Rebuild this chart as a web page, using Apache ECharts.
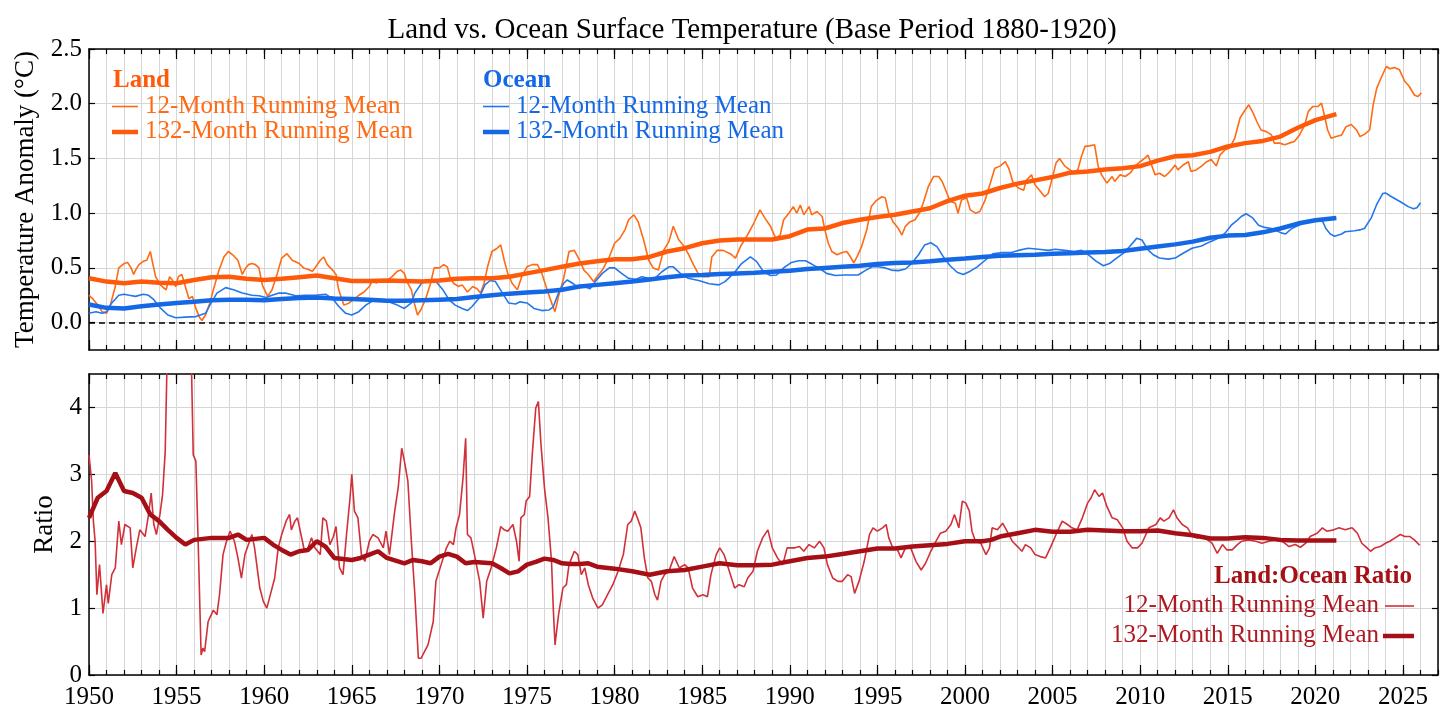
<!DOCTYPE html>
<html>
<head>
<meta charset="utf-8">
<script src="https://cdn.jsdelivr.net/npm/echarts@6.0.0/dist/echarts.min.js"></script>
<style>
  html, body { margin: 0; padding: 0; background: #fff; }
  #chart { width: 1456px; height: 728px; }
</style>
</head>
<body>
<div id="chart"></div>
<script>
// tick labels
let yearTicks = [1950, 1955, 1960, 1965, 1970, 1975, 1980, 1985, 1990, 1995, 2000, 2005, 2010, 2015, 2020, 2025]
let tempTicks = [0, 0.5, 1, 1.5, 2, 2.5]
let ratioTicks = [0, 1, 2, 3, 4]

// land, 12-month running mean [year, anomaly]
let land12 = [
  [1950.0,0.25],[1950.2,0.22],[1950.5,0.16],[1950.75,0.10],[1951.0,0.085],[1951.2,0.15],[1951.5,0.33],[1951.7,0.50],
  [1952.0,0.54],[1952.2,0.55],[1952.4,0.50],[1952.55,0.44],[1952.66,0.48],[1952.85,0.53],[1953.1,0.56],[1953.3,0.57],
  [1953.5,0.65],[1953.6,0.57],[1953.8,0.42],[1954.1,0.34],[1954.4,0.30],[1954.6,0.42],[1954.75,0.39],[1954.95,0.33],
  [1955.1,0.42],[1955.3,0.44],[1955.5,0.33],[1955.7,0.22],[1955.9,0.24],[1956.1,0.13],[1956.3,0.05],[1956.45,0.02],
  [1956.65,0.07],[1956.9,0.18],[1957.1,0.30],[1957.4,0.47],[1957.7,0.60],[1957.95,0.65],[1958.2,0.62],[1958.5,0.57],
  [1958.75,0.44],[1958.95,0.50],[1959.1,0.53],[1959.3,0.54],[1959.5,0.53],[1959.7,0.50],[1959.9,0.34],[1960.2,0.24],
  [1960.45,0.30],[1960.75,0.45],[1961.0,0.59],[1961.3,0.63],[1961.6,0.57],[1962.0,0.54],[1962.25,0.50],[1962.45,0.49],
  [1962.75,0.47],[1962.9,0.50],[1963.2,0.57],[1963.4,0.60],[1963.6,0.53],[1963.9,0.48],[1964.1,0.44],[1964.25,0.30],
  [1964.55,0.16],[1964.85,0.18],[1965.1,0.21],[1965.4,0.25],[1965.7,0.28],[1966.0,0.33],[1966.2,0.39],[1966.4,0.36],
  [1966.65,0.39],[1966.85,0.375],[1967.05,0.39],[1967.3,0.42],[1967.6,0.47],[1967.8,0.48],[1968.0,0.45],[1968.15,0.375],
  [1968.4,0.30],[1968.55,0.19],[1968.75,0.07],[1968.95,0.12],[1969.2,0.21],[1969.5,0.36],[1969.7,0.50],[1970.0,0.50],
  [1970.25,0.53],[1970.45,0.51],[1970.6,0.42],[1970.8,0.36],[1971.1,0.33],[1971.3,0.345],[1971.6,0.28],[1971.9,0.33],
  [1972.15,0.31],[1972.35,0.27],[1972.55,0.36],[1972.75,0.51],[1973.0,0.65],[1973.3,0.68],[1973.5,0.71],[1973.7,0.57],
  [1973.9,0.45],[1974.15,0.36],[1974.45,0.30],[1974.7,0.42],[1975.0,0.51],[1975.3,0.53],[1975.6,0.53],[1975.85,0.45],
  [1976.15,0.30],[1976.45,0.16],[1976.6,0.10],[1976.8,0.24],[1977.1,0.41],[1977.4,0.65],[1977.7,0.66],[1978.0,0.57],
  [1978.25,0.48],[1978.5,0.44],[1978.8,0.375],[1979.0,0.42],[1979.3,0.48],[1979.7,0.60],[1980.0,0.725],[1980.3,0.77],
  [1980.6,0.85],[1980.8,0.94],[1981.1,0.985],[1981.35,0.92],[1981.65,0.76],[1981.95,0.57],[1982.2,0.50],[1982.5,0.48],
  [1982.8,0.66],[1983.1,0.74],[1983.35,0.88],[1983.65,0.76],[1983.95,0.70],[1984.2,0.63],[1984.5,0.53],[1984.8,0.44],
  [1985.1,0.42],[1985.4,0.42],[1985.55,0.60],[1985.85,0.66],[1986.2,0.66],[1986.6,0.63],[1986.9,0.59],[1987.2,0.70],
  [1987.55,0.79],[1987.95,0.91],[1988.3,1.03],[1988.6,0.95],[1988.9,0.88],[1989.2,0.77],[1989.45,0.80],[1989.65,0.94],
  [1989.95,1.00],[1990.2,1.06],[1990.4,1.00],[1990.6,1.075],[1990.8,0.985],[1991.1,1.06],[1991.25,0.985],[1991.55,1.015],
  [1991.85,0.97],[1992.0,0.85],[1992.2,0.725],[1992.4,0.65],[1992.7,0.62],[1993.0,0.64],[1993.25,0.65],[1993.45,0.605],
  [1993.65,0.545],[1993.85,0.605],[1994.1,0.695],[1994.4,0.85],[1994.65,1.06],[1994.9,1.11],[1995.25,1.15],[1995.45,1.14],
  [1995.65,1.00],[1995.9,0.92],[1996.2,0.86],[1996.4,0.80],[1996.6,0.88],[1996.85,0.92],[1997.15,0.94],[1997.45,1.015],
  [1997.65,1.11],[1997.9,1.24],[1998.2,1.335],[1998.5,1.335],[1998.7,1.29],[1999.0,1.17],[1999.15,1.11],[1999.45,1.09],
  [1999.6,1.00],[1999.8,1.12],[2000.1,1.14],[2000.3,1.03],[2000.6,1.00],[2000.85,1.015],[2001.15,1.12],[2001.45,1.275],
  [2001.7,1.41],[2002.0,1.43],[2002.3,1.47],[2002.5,1.41],[2002.75,1.275],[2003.05,1.23],[2003.35,1.21],[2003.5,1.30],
  [2003.8,1.35],[2004.0,1.26],[2004.3,1.20],[2004.55,1.15],[2004.75,1.18],[2004.95,1.30],[2005.2,1.46],[2005.4,1.50],
  [2005.7,1.43],[2005.95,1.40],[2006.25,1.37],[2006.45,1.40],[2006.65,1.52],[2006.85,1.61],[2007.1,1.615],[2007.4,1.625],
  [2007.6,1.43],[2007.8,1.35],[2008.1,1.275],[2008.4,1.335],[2008.55,1.29],[2008.85,1.35],[2009.15,1.335],[2009.45,1.37],
  [2009.7,1.43],[2010.0,1.47],[2010.25,1.50],[2010.45,1.53],[2010.65,1.44],[2010.85,1.35],[2011.1,1.365],[2011.4,1.335],
  [2011.7,1.38],[2012.0,1.44],[2012.15,1.395],[2012.45,1.44],[2012.75,1.47],[2012.9,1.38],[2013.2,1.395],[2013.5,1.43],
  [2013.8,1.47],[2014.05,1.49],[2014.35,1.43],[2014.55,1.53],[2014.85,1.58],[2015.1,1.595],[2015.4,1.685],[2015.7,1.87],
  [2016.0,1.945],[2016.2,1.99],[2016.45,1.915],[2016.65,1.84],[2016.9,1.76],[2017.2,1.745],[2017.5,1.715],[2017.65,1.64],
  [2017.95,1.64],[2018.25,1.625],[2018.5,1.64],[2018.8,1.655],[2019.1,1.715],[2019.4,1.81],[2019.6,1.93],[2019.85,1.975],
  [2020.15,1.975],[2020.35,2.005],[2020.55,1.87],[2020.7,1.76],[2020.9,1.685],[2021.2,1.70],[2021.5,1.715],[2021.75,1.79],
  [2022.05,1.81],[2022.35,1.76],[2022.55,1.70],[2022.8,1.72],[2023.1,1.76],[2023.3,1.99],[2023.5,2.14],[2023.75,2.235],
  [2024.05,2.34],[2024.25,2.32],[2024.5,2.33],[2024.8,2.31],[2025.1,2.205],[2025.35,2.16],[2025.65,2.08],[2025.85,2.065],
  [2026.05,2.10]
]

// land, 132-month running mean
let land132 = [
  [1950,0.405],[1951,0.375],[1952,0.36],[1953,0.375],[1954,0.365],[1955,0.36],[1956,0.39],[1957,0.415],[1958,0.42],
  [1959,0.40],[1960,0.39],[1961,0.40],[1962,0.415],[1963,0.43],[1964,0.405],[1965,0.38],[1966,0.38],[1967,0.385],
  [1968,0.38],[1969,0.375],[1970,0.385],[1971,0.40],[1972,0.405],[1973,0.405],[1974,0.42],[1975,0.45],[1976,0.48],
  [1977,0.51],[1978,0.54],[1979,0.56],[1980,0.58],[1981,0.58],[1982,0.60],[1983,0.65],[1984,0.68],[1985,0.725],
  [1986,0.75],[1987,0.76],[1988,0.76],[1989,0.76],[1990,0.79],[1991,0.85],[1992,0.86],[1993,0.91],[1994,0.94],
  [1995,0.965],[1996,0.985],[1997,1.015],[1998,1.045],[1999,1.11],[2000,1.16],[2001,1.18],[2002,1.23],[2003,1.27],
  [2004,1.30],[2005,1.33],[2006,1.37],[2007,1.38],[2008,1.40],[2009,1.41],[2010,1.43],[2011,1.48],[2012,1.52],
  [2013,1.53],[2014,1.56],[2015,1.61],[2016,1.64],[2017,1.66],[2018,1.70],[2019,1.78],[2020,1.85],[2021.2,1.905]
]

// ocean, 12-month running mean
let ocean12 = [
  [1950.0,0.085],[1950.4,0.10],[1950.75,0.085],[1951.0,0.10],[1951.3,0.18],[1951.7,0.25],[1952.0,0.26],[1952.3,0.25],
  [1952.65,0.24],[1953.1,0.26],[1953.4,0.25],[1953.7,0.21],[1954.1,0.13],[1954.5,0.07],[1954.95,0.045],[1955.5,0.05],
  [1956.1,0.055],[1956.65,0.085],[1956.9,0.16],[1957.3,0.27],[1957.8,0.32],[1958.25,0.30],[1958.75,0.27],[1959.3,0.25],
  [1959.7,0.245],[1960.1,0.23],[1960.45,0.25],[1960.85,0.27],[1961.2,0.27],[1961.8,0.245],[1962.35,0.25],[1962.9,0.25],
  [1963.5,0.26],[1963.9,0.22],[1964.25,0.15],[1964.65,0.085],[1965.0,0.07],[1965.4,0.10],[1965.8,0.16],[1966.2,0.20],
  [1966.65,0.21],[1967.1,0.19],[1967.6,0.16],[1968.0,0.13],[1968.4,0.18],[1968.6,0.27],[1969.0,0.365],[1969.4,0.38],
  [1969.8,0.375],[1970.2,0.30],[1970.55,0.21],[1970.9,0.16],[1971.3,0.13],[1971.6,0.11],[1971.85,0.145],[1972.25,0.22],
  [1972.6,0.345],[1972.9,0.385],[1973.2,0.375],[1973.6,0.27],[1973.95,0.18],[1974.35,0.17],[1974.6,0.19],[1975.0,0.18],
  [1975.4,0.13],[1975.85,0.11],[1976.25,0.115],[1976.5,0.145],[1976.8,0.27],[1977.1,0.36],[1977.3,0.39],[1977.6,0.36],
  [1977.85,0.33],[1978.25,0.33],[1978.6,0.31],[1978.9,0.375],[1979.3,0.45],[1979.7,0.50],[1980.0,0.50],[1980.4,0.45],
  [1980.8,0.405],[1981.2,0.395],[1981.55,0.42],[1981.95,0.405],[1982.3,0.405],[1982.7,0.465],[1983.1,0.51],[1983.35,0.51],
  [1983.75,0.45],[1984.2,0.405],[1984.8,0.385],[1985.4,0.355],[1985.95,0.345],[1986.3,0.375],[1986.8,0.45],[1987.25,0.54],
  [1987.75,0.60],[1988.1,0.56],[1988.5,0.465],[1988.9,0.43],[1989.25,0.435],[1989.65,0.50],[1990.1,0.55],[1990.5,0.565],
  [1990.9,0.565],[1991.25,0.535],[1991.65,0.50],[1992.1,0.45],[1992.6,0.43],[1993.1,0.435],[1993.55,0.435],[1993.9,0.435],
  [1994.3,0.475],[1994.7,0.51],[1995.05,0.51],[1995.45,0.50],[1995.8,0.48],[1996.2,0.475],[1996.6,0.49],[1996.95,0.54],
  [1997.35,0.62],[1997.7,0.71],[1998.05,0.73],[1998.4,0.695],[1998.75,0.605],[1999.15,0.52],[1999.55,0.46],[1999.9,0.44],
  [2000.3,0.47],[2000.7,0.51],[2001.15,0.57],[2001.6,0.63],[2002.1,0.64],[2002.65,0.64],[2003.05,0.66],[2003.6,0.68],
  [2004.2,0.67],[2004.75,0.66],[2005.15,0.67],[2005.7,0.66],[2006.25,0.65],[2006.65,0.66],[2007.05,0.62],[2007.5,0.56],
  [2007.9,0.52],[2008.25,0.54],[2008.65,0.59],[2009.05,0.635],[2009.4,0.695],[2009.8,0.77],[2010.1,0.755],[2010.45,0.665],
  [2010.75,0.62],[2011.1,0.59],[2011.6,0.58],[2012.0,0.59],[2012.35,0.625],[2012.96,0.68],[2013.5,0.70],[2014.0,0.74],
  [2014.45,0.77],[2014.86,0.82],[2015.2,0.89],[2015.5,0.93],[2015.77,0.97],[2016.05,0.995],[2016.4,0.96],[2016.76,0.89],
  [2017.1,0.87],[2017.5,0.86],[2018.05,0.82],[2018.3,0.81],[2018.66,0.86],[2019.2,0.90],[2019.75,0.94],[2020.2,0.94],
  [2020.4,0.93],[2020.6,0.86],[2020.85,0.81],[2021.1,0.79],[2021.5,0.81],[2021.7,0.83],[2022.25,0.84],[2022.6,0.85],
  [2022.8,0.86],[2023.2,0.96],[2023.5,1.08],[2023.85,1.18],[2024.0,1.185],[2024.35,1.15],[2024.9,1.10],[2025.3,1.06],
  [2025.6,1.04],[2025.8,1.05],[2026.0,1.095]
]

// ocean, 132-month running mean
let ocean132 = [
  [1950,0.165],[1951,0.135],[1952,0.13],[1953,0.15],[1954,0.165],[1955,0.18],[1956,0.19],[1957,0.205],[1958,0.21],
  [1959,0.21],[1960,0.205],[1961,0.215],[1962,0.225],[1963,0.23],[1964,0.22],[1965,0.215],[1966,0.21],[1967,0.20],
  [1968,0.20],[1969,0.205],[1970,0.21],[1971,0.215],[1972,0.235],[1973,0.25],[1974,0.265],[1975,0.275],[1976,0.285],
  [1977,0.30],[1978,0.33],[1979,0.345],[1980,0.36],[1981,0.375],[1982,0.395],[1983,0.415],[1984,0.43],[1985,0.435],
  [1986,0.445],[1987,0.45],[1988,0.455],[1989,0.465],[1990,0.475],[1991,0.49],[1992,0.50],[1993,0.51],[1994,0.52],
  [1995,0.535],[1996,0.545],[1997,0.55],[1998,0.56],[1999,0.575],[2000,0.585],[2001,0.60],[2002,0.61],[2003,0.615],
  [2004,0.62],[2005,0.63],[2006,0.635],[2007,0.64],[2008,0.645],[2009,0.655],[2010,0.675],[2011,0.695],[2012,0.715],
  [2013,0.74],[2014,0.775],[2015,0.795],[2016,0.80],[2017,0.825],[2018,0.86],[2019,0.905],[2020,0.935],[2021.2,0.955]
]

// land:ocean ratio, 12-month running mean (runs off the top in 1954-55)
let ratio12 = [
  [1950.0,3.29],[1950.15,2.9],[1950.25,2.3],[1950.35,2.0],[1950.45,1.2],[1950.6,1.65],[1950.8,0.92],[1951.0,1.35],
  [1951.1,1.07],[1951.3,1.5],[1951.5,1.6],[1951.7,2.3],[1951.85,1.95],[1952.05,2.25],[1952.35,2.2],[1952.5,1.6],
  [1952.7,1.9],[1952.9,2.17],[1953.2,2.07],[1953.4,2.4],[1953.55,2.72],[1953.7,2.25],[1953.85,2.1],[1954.05,2.4],
  [1954.2,2.7],[1954.35,3.34],[1954.45,4.6],[1954.7,8],[1955.0,9],[1955.4,8],[1955.7,6],[1955.85,4.6],
  [1955.95,3.29],[1956.1,3.2],[1956.25,1.8],[1956.4,0.3],[1956.5,0.4],[1956.6,0.35],[1956.8,0.8],[1957.1,0.97],
  [1957.3,0.9],[1957.45,1.2],[1957.65,1.8],[1957.85,2.0],[1958.05,2.15],[1958.3,2.0],[1958.5,1.75],[1958.7,1.45],
  [1958.9,1.8],[1959.1,1.95],[1959.3,2.1],[1959.45,1.9],[1959.75,1.3],[1959.95,1.1],[1960.15,1.0],[1960.4,1.25],
  [1960.6,1.45],[1960.8,1.9],[1961.0,2.1],[1961.25,2.3],[1961.45,2.4],[1961.55,2.17],[1961.75,2.3],[1961.9,2.35],
  [1962.1,2.1],[1962.3,1.85],[1962.5,1.9],[1962.7,2.05],[1962.9,1.9],[1963.2,1.8],[1963.35,2.35],[1963.55,2.3],
  [1963.75,1.95],[1963.95,2.07],[1964.1,2.22],[1964.3,1.6],[1964.5,1.5],[1964.7,2.1],[1964.9,2.65],[1965.0,3.0],
  [1965.15,2.45],[1965.35,2.35],[1965.55,1.8],[1965.75,1.7],[1966.0,2.0],[1966.2,2.1],[1966.5,2.05],[1966.8,1.9],
  [1966.95,2.15],[1967.15,1.8],[1967.45,2.45],[1967.65,2.8],[1967.85,3.39],[1968.0,3.2],[1968.2,2.9],[1968.4,2.0],
  [1968.6,1.2],[1968.8,0.25],[1968.95,0.25],[1969.15,0.35],[1969.35,0.45],[1969.65,0.8],[1969.8,1.4],[1970.1,1.65],
  [1970.4,1.9],[1970.6,2.0],[1970.8,1.95],[1970.95,2.2],[1971.15,2.4],[1971.35,2.95],[1971.5,3.54],[1971.6,2.1],
  [1971.8,2.05],[1972.0,1.8],[1972.3,1.4],[1972.5,0.85],[1972.7,1.4],[1972.95,1.6],[1973.25,1.9],[1973.5,2.22],
  [1973.7,2.17],[1973.9,2.15],[1974.2,2.25],[1974.4,2.0],[1974.55,1.7],[1974.65,2.35],[1974.85,2.4],[1974.95,2.6],
  [1975.15,2.67],[1975.3,3.29],[1975.5,3.99],[1975.65,4.09],[1975.8,3.44],[1976.0,2.79],[1976.2,2.35],[1976.4,1.7],
  [1976.5,1.0],[1976.6,0.45],[1976.8,0.9],[1977.05,1.3],[1977.25,1.35],[1977.4,1.65],[1977.7,1.85],[1977.9,1.8],
  [1978.1,1.5],[1978.3,1.6],[1978.5,1.35],[1978.75,1.15],[1979.05,1.0],[1979.3,1.05],[1979.6,1.2],[1979.9,1.35],
  [1980.2,1.55],[1980.5,1.8],[1980.75,2.25],[1980.95,2.3],[1981.15,2.45],[1981.3,2.35],[1981.5,2.2],[1981.7,1.75],
  [1981.9,1.45],[1982.1,1.4],[1982.3,1.2],[1982.45,1.12],[1982.65,1.4],[1982.85,1.5],[1983.1,1.55],[1983.4,1.77],
  [1983.7,1.6],[1984.0,1.65],[1984.2,1.6],[1984.45,1.3],[1984.75,1.17],[1985.05,1.2],[1985.3,1.17],[1985.5,1.5],
  [1985.8,1.8],[1986.0,1.9],[1986.25,1.8],[1986.55,1.55],[1986.85,1.3],[1987.1,1.35],[1987.4,1.32],[1987.6,1.45],
  [1987.9,1.55],[1988.15,1.85],[1988.45,2.05],[1988.75,2.17],[1989.0,1.9],[1989.3,1.75],[1989.6,1.65],[1989.85,1.9],
  [1990.25,1.9],[1990.55,1.92],[1990.8,1.85],[1991.1,1.95],[1991.4,1.9],[1991.7,2.0],[1991.95,1.9],[1992.15,1.65],
  [1992.45,1.45],[1992.75,1.4],[1993.0,1.4],[1993.3,1.5],[1993.5,1.47],[1993.7,1.22],[1993.95,1.4],[1994.25,1.7],
  [1994.55,2.1],[1994.75,2.2],[1995.0,2.15],[1995.3,2.2],[1995.5,2.25],[1995.65,2.05],[1995.85,1.92],[1996.15,1.87],
  [1996.35,1.75],[1996.6,1.9],[1996.9,1.9],[1997.2,1.7],[1997.5,1.57],[1997.75,1.67],[1998.05,1.85],[1998.35,2.0],
  [1998.6,2.12],[1998.9,2.15],[1999.2,2.25],[1999.4,2.4],[1999.65,2.2],[1999.85,2.6],[2000.05,2.57],[2000.25,2.45],
  [2000.4,2.15],[2000.6,2.0],[2000.9,1.97],[2001.2,1.8],[2001.4,1.9],[2001.55,2.2],[2001.85,2.17],[2002.15,2.27],
  [2002.4,2.15],[2002.7,2.0],[2003.0,1.92],[2003.25,1.85],[2003.45,1.95],[2003.75,1.9],[2004.0,1.8],[2004.3,1.77],
  [2004.6,1.75],[2004.9,1.92],[2005.2,2.1],[2005.55,2.3],[2005.85,2.25],[2006.1,2.2],[2006.4,2.17],[2006.7,2.35],
  [2007.0,2.57],[2007.2,2.65],[2007.4,2.77],[2007.65,2.67],[2007.85,2.72],[2008.1,2.52],[2008.4,2.35],[2008.7,2.32],
  [2009.0,2.2],[2009.25,2.0],[2009.55,1.9],[2009.85,1.9],[2010.1,1.97],[2010.5,2.2],[2010.9,2.25],[2011.15,2.35],
  [2011.35,2.3],[2011.65,2.35],[2011.9,2.47],[2012.1,2.35],[2012.4,2.25],[2012.7,2.2],[2013.0,2.07],[2013.25,2.05],
  [2013.55,2.07],[2013.85,2.02],[2014.1,1.97],[2014.4,1.82],[2014.7,1.95],[2014.95,1.87],[2015.25,1.87],[2015.55,1.95],
  [2015.8,2.0],[2016.2,2.02],[2016.6,2.0],[2016.95,1.97],[2017.35,2.0],[2017.7,2.02],[2018.1,2.0],[2018.5,1.92],
  [2018.85,1.95],[2019.15,1.91],[2019.45,1.97],[2019.7,2.07],[2020.1,2.12],[2020.4,2.2],[2020.65,2.15],[2021.05,2.17],
  [2021.35,2.2],[2021.7,2.17],[2022.1,2.2],[2022.4,2.12],[2022.65,1.97],[2022.95,1.9],[2023.15,1.85],[2023.4,1.9],
  [2023.7,1.92],[2024.0,1.97],[2024.25,2.0],[2024.55,2.05],[2024.85,2.1],[2025.1,2.07],[2025.4,2.07],[2025.65,2.02],
  [2025.95,1.94]
]

// land:ocean ratio, 132-month running mean
let ratio132 = [
  [1950.0,2.35],[1950.5,2.65],[1951.0,2.75],[1951.5,3.02],[1952.0,2.75],[1952.5,2.72],[1953.0,2.65],[1953.5,2.4],
  [1954.0,2.3],[1954.5,2.17],[1955.0,2.05],[1955.5,1.95],[1956.0,2.02],[1957.0,2.05],[1958.0,2.05],[1958.5,2.1],
  [1959.0,2.02],[1960.0,2.05],[1960.5,1.95],[1961.0,1.87],[1961.5,1.8],[1962.0,1.85],[1962.5,1.87],[1963.0,2.0],
  [1963.5,1.92],[1964.0,1.75],[1965.0,1.72],[1965.5,1.75],[1966.0,1.8],[1966.5,1.85],[1967.0,1.75],[1968.0,1.67],
  [1968.5,1.72],[1969.0,1.7],[1969.5,1.67],[1970.0,1.77],[1970.5,1.81],[1971.0,1.77],[1971.5,1.67],[1972.0,1.69],
  [1973.0,1.67],[1973.5,1.6],[1974.0,1.52],[1974.5,1.55],[1975.0,1.65],[1975.5,1.69],[1976.0,1.74],[1976.5,1.72],
  [1977.0,1.67],[1977.5,1.66],[1978.0,1.66],[1978.5,1.67],[1979.0,1.62],[1980.0,1.59],[1981.0,1.55],[1982.0,1.5],
  [1983.0,1.55],[1984.0,1.57],[1985.0,1.62],[1986.0,1.67],[1987.0,1.64],[1988.0,1.64],[1989.0,1.65],[1990.0,1.7],
  [1991.0,1.75],[1992.0,1.77],[1993.0,1.81],[1994.0,1.85],[1995.0,1.89],[1996.0,1.89],[1997.0,1.92],[1998.0,1.94],
  [1999.0,1.96],[2000.0,2.0],[2001.0,2.0],[2001.5,2.02],[2002.0,2.07],[2003.0,2.12],[2004.0,2.17],[2005.0,2.14],
  [2006.0,2.14],[2007.0,2.17],[2008.0,2.16],[2009.0,2.15],[2010.0,2.15],[2011.0,2.16],[2012.0,2.12],[2013.0,2.09],
  [2014.0,2.04],[2015.0,2.04],[2016.0,2.06],[2017.0,2.05],[2018.0,2.02],[2019.0,2.01],[2020.0,2.01],[2021.2,2.01]
]

const FONT = "'Liberation Serif', 'DejaVu Serif', serif"
const LAND = "#FF6A13"
const LAND_THICK = "#FF5A0A"
const OCEAN = "#2477EB"
const OCEAN_THICK = "#1468E6"
const RATIO = "#D23039"
const RATIO_THICK = "#A50F15"
const GRIDLINE = "#d6d6d6"

// x axes for one panel: yearly ticks + longer 5-year ticks, bottom and top
function xAxesFor(gi, withLabels) {
  let axes = []
  ;["bottom", "top"].forEach(function (pos) {
    axes.push({
      gridIndex: gi, type: "value", position: pos, min: 1950, max: 2027, interval: 1,
      axisLine: { show: true, onZero: false, lineStyle: { color: "#000", width: 1.5 } },
      axisTick: { show: true, inside: true, length: 5, lineStyle: { color: "#000", width: 1.2 } },
      axisLabel: {
        show: withLabels && pos === "bottom",
        color: "#000", fontFamily: FONT, fontSize: 25, margin: 10,
        formatter: function (v) { return v % 5 === 0 ? String(v) : "" }
      },
      splitLine: { show: pos === "bottom", lineStyle: { color: GRIDLINE, width: 1 } }
    })
    axes.push({
      gridIndex: gi, type: "value", position: pos, min: 1950, max: 2027,
      axisLine: { show: false, onZero: false },
      axisTick: { show: true, inside: true, length: 10, customValues: yearTicks, lineStyle: { color: "#000", width: 1.2 } },
      axisLabel: { show: false },
      splitLine: { show: false }
    })
  })
  return axes
}

// y axes for one panel, left with labels and right with ticks only
function yAxesFor(gi, min, max, ticks, name, nameGap, fmt) {
  let base = {
    gridIndex: gi, type: "value", min: min, max: max,
    axisLine: { show: true, onZero: false, lineStyle: { color: "#000", width: 1.5 } },
    axisTick: { show: true, inside: true, length: 6, customValues: ticks, lineStyle: { color: "#000", width: 1.2 } }
  }
  return [
    Object.assign({}, base, {
      position: "left",
      name: name, nameLocation: "middle", nameGap: nameGap,
      nameTextStyle: { color: "#000", fontFamily: FONT, fontSize: 27 },
      axisLabel: { show: true, customValues: ticks, color: "#000", fontFamily: FONT, fontSize: 25, margin: 7, formatter: fmt },
      splitLine: { show: true, lineStyle: { color: GRIDLINE, width: 1 } }
    }),
    Object.assign({}, base, {
      position: "right",
      axisLabel: { show: false },
      splitLine: { show: false }
    })
  ]
}

function lineSeries(name, data, gi, color, width) {
  return {
    name: name, type: "line", data: data,
    xAxisIndex: gi * 4, yAxisIndex: gi * 2,
    symbol: "none", showSymbol: false, smooth: false, clip: true,
    lineStyle: { color: color, width: width },
    itemStyle: { color: color },
    emphasis: { disabled: true },
    silent: true
  }
}

function legendText(x, y, text, color, bold, align) {
  return {
    type: "text", x: x, y: y, z: 100, silent: true,
    style: {
      text: text, fill: color, textAlign: align || "left", textVerticalAlign: "middle",
      font: (bold ? "bold " : "") + "25px " + FONT
    }
  }
}

function legendLine(x1, x2, y, color, width) {
  return { type: "line", z: 100, silent: true, shape: { x1: x1, y1: y, x2: x2, y2: y }, style: { stroke: color, lineWidth: width } }
}

let chart = echarts.init(document.getElementById("chart"), null, { renderer: "canvas" })

let landThin = lineSeries("Land 12-Month Running Mean", land12, 0, LAND, 1.6)
// dashed zero line on the temperature panel
landThin.markLine = {
  silent: true, symbol: "none", label: { show: false },
  lineStyle: { color: "#000", type: [6, 4], width: 1.5 },
  data: [{ yAxis: 0 }]
}

let option = {
  animation: false,
  backgroundColor: "#fff",
  title: {
    text: "Land vs. Ocean Surface Temperature (Base Period 1880-1920)",
    left: 747, top: 11, textAlign: "center",
    textStyle: { color: "#000", fontFamily: FONT, fontSize: 29, fontWeight: "normal" }
  },
  grid: [
    { left: 89, right: 18, top: 49, height: 301, containLabel: false },
    { left: 89, right: 18, top: 374, height: 301, containLabel: false }
  ],
  xAxis: xAxesFor(0, false).concat(xAxesFor(1, true)),
  yAxis: yAxesFor(0, -0.25, 2.5, tempTicks, "Temperature Anomaly (°C)", 45, function (v) { return v.toFixed(1) })
    .concat(yAxesFor(1, 0, 4.5, ratioTicks, "Ratio", 26, function (v) { return String(v) })),
  series: [
    landThin,
    lineSeries("Ocean 12-Month Running Mean", ocean12, 0, OCEAN, 1.6),
    lineSeries("Land 132-Month Running Mean", land132, 0, LAND_THICK, 4.5),
    lineSeries("Ocean 132-Month Running Mean", ocean132, 0, OCEAN_THICK, 4.5),
    lineSeries("Ratio 12-Month Running Mean", ratio12, 1, RATIO, 1.6),
    lineSeries("Ratio 132-Month Running Mean", ratio132, 1, RATIO_THICK, 4.5)
  ],
  graphic: [
    // land legend
    legendText(113, 81, "Land", LAND_THICK, true),
    legendLine(112, 138, 106.5, LAND, 1.6),
    legendText(145, 106, "12-Month Running Mean", LAND),
    legendLine(112, 138, 132, LAND_THICK, 4.5),
    legendText(145, 131, "132-Month Running Mean", LAND),
    // ocean legend
    legendText(483, 81, "Ocean", OCEAN_THICK, true),
    legendLine(483, 509, 106.5, OCEAN, 1.6),
    legendText(516, 106, "12-Month Running Mean", OCEAN_THICK),
    legendLine(483, 509, 132, OCEAN_THICK, 4.5),
    legendText(516, 131, "132-Month Running Mean", OCEAN_THICK),
    // ratio legend, right aligned
    legendText(1412, 577, "Land:Ocean Ratio", RATIO_THICK, true, "right"),
    legendText(1379, 605, "12-Month Running Mean", "#AE1A22", false, "right"),
    legendLine(1385, 1414, 606, RATIO, 1.6),
    legendText(1379, 635, "132-Month Running Mean", "#AE1A22", false, "right"),
    legendLine(1383, 1414, 636, RATIO_THICK, 4.5)
  ]
}

chart.setOption(option)
</script>
</body>
</html>
